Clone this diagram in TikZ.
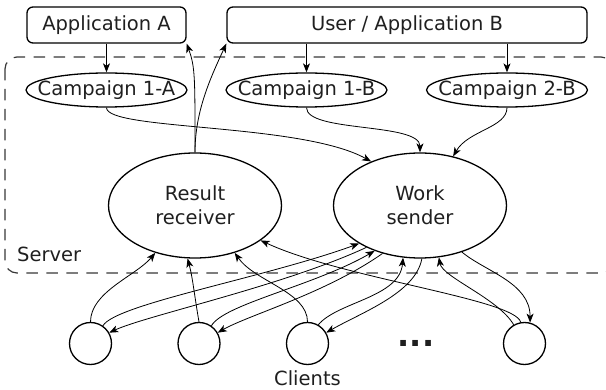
\documentclass[tikz,border=0pt]{standalone}
\usepackage{fontspec}
\setmainfont{DejaVu Sans}
\usetikzlibrary{arrows.meta,shapes.geometric,calc}
\begin{document}
\begin{tikzpicture}[x=1pt,y=-1pt,
  font=\fontsize{19.5}{24}\selectfont,
  every node/.style={text=black!88},
  box/.style={draw, rounded corners=6pt, line width=1.3pt, inner sep=0pt, minimum height=36pt},
  camp/.style={draw, ellipse, line width=1.3pt, inner sep=0pt, minimum width=161pt, minimum height=34pt},
  proc/.style={draw, ellipse, line width=1.3pt, inner sep=0pt, minimum width=173pt, minimum height=105pt, align=center},
  client/.style={draw, circle, line width=1.3pt, minimum size=42pt, inner sep=0pt},
  conn/.style={line width=0.8pt, -{Stealth[length=9pt,width=7pt,inset=2.5pt]}},
  frame/.style={draw=black!78, line width=1.2pt, dash pattern=on 11.5pt off 8.5pt, rounded corners=12pt},
]
\useasboundingbox (0,0) rectangle (606,390);
\draw[frame] (5,57) rectangle (613,273);

\node[box, minimum width=159pt] (appA) at (106.5,25) {Application A};
\node[box, minimum width=360pt] (appB) at (407,25) {User / Application B};
\node[camp] (c1a) at (106.5,90) {\makebox[0pt]{Campaign 1-A}};
\node[camp] (c1b) at (306.5,90) {\makebox[0pt]{Campaign 1-B}};
\node[camp] (c2b) at (507,90) {\makebox[0pt]{Campaign 2-B}};
\node[proc] (rr) at (195,205.5) {Result\\receiver};
\node[proc] (ws) at (420,205.5) {Work\\sender};
\node[anchor=base west, inner sep=0pt] (server) at (17,262) {Server};

\node[client] (k1) at (90.5,343.5) {};
\node[client] (k2) at (199,343.5) {};
\node[client] (k3) at (307.5,343.5) {};
\node[client] (k4) at (524.5,343.5) {};
\node[anchor=base, inner sep=0pt, font=\fontsize{32}{32}\selectfont\bfseries] (dots) at (416,346.5) {...};
\node[anchor=base, inner sep=0pt] (clients) at (307.5,385.5) {Clients};

% top connectors
\draw[conn] (appA.south) -- (c1a.north);
\draw[conn] (appB.south -| c1b.north) -- (c1b.north);
\draw[conn] (appB.south -| c2b.north) -- (c2b.north);
\draw[conn] (rr.north) .. controls +(90:75pt) and +(-70:25pt) .. (appA.south east);
\draw[conn] (rr.north) .. controls +(90:40pt) and +(245:40pt) .. (appB.south west);
\draw[conn] (c1a.south) .. controls +(-90:23pt) and +(151:80pt) .. (ws.138);
\draw[conn] (c1b.south) .. controls +(-90:25pt) and +(90:30pt) .. (ws.north);
\draw[conn] (c2b.south) .. controls +(-90:20pt) and +(60:30pt) .. (ws.56);

% bottom connectors
\draw[conn] (k1.north) .. controls +(90:30pt) and +(230:30pt) .. (rr.230);
\draw[conn] (k2.north) .. controls +(100:25pt) and +(-75:20pt) .. (rr.262);
\draw[conn] (k3.north) .. controls +(90:30pt) and +(-55:35pt) .. (rr.310);
\draw[conn] (k4.100) .. controls +(105:24pt) and +(-25:90pt) .. (rr.332);
\draw[conn] (k1.55) .. controls +(60:25pt) and +(200:100pt) .. (ws.212);
\draw[conn] (ws.218) .. controls +(205:90pt) and +(25:40pt) .. (k1.30);
\draw[conn] (k2.55) .. controls +(60:25pt) and +(210:70pt) .. (ws.225);
\draw[conn] (ws.232) .. controls +(215:70pt) and +(30:35pt) .. (k2.30);
\draw[conn] (k3.60) .. controls +(50:30pt) and +(-95:40pt) .. (ws.252);
\draw[conn] (ws.272) .. controls +(-100:35pt) and +(30:40pt) .. (k3.30);
\draw[conn] (k4.120) .. controls +(120:30pt) and +(-80:20pt) .. (ws.290);
\draw[conn] (ws.312) .. controls +(-40:30pt) and +(90:40pt) .. (k4.75);
\end{tikzpicture}
\end{document}
